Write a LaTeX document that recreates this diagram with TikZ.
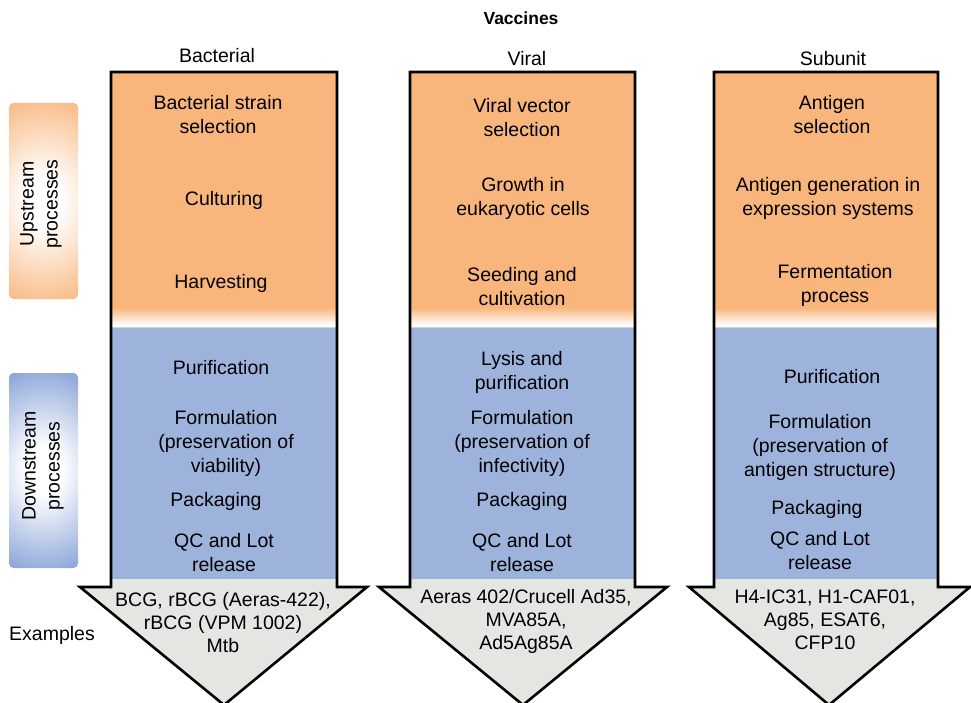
\documentclass[tikz,border=0pt]{standalone}
\usepackage{fontspec}
\setmainfont{Liberation Sans}
\definecolor{upfill}{RGB}{249,182,124}
\definecolor{downfill}{RGB}{158,179,220}
\definecolor{tipfill}{RGB}{227,230,225}
\definecolor{sideup}{RGB}{248,178,118}
\definecolor{sidedown}{RGB}{124,153,212}
\definecolor{seam}{RGB}{205,210,220}
\pgfdeclareradialshading{upfade}{\pgfpoint{0bp}{0bp}}{color(0bp)=(white); color(5bp)=(white); color(25bp)=(sideup); color(50bp)=(sideup)}
\pgfdeclareradialshading{downfade}{\pgfpoint{0bp}{0bp}}{color(0bp)=(white); color(5bp)=(white); color(25bp)=(sidedown); color(50bp)=(sidedown)}
\begin{document}
\begin{tikzpicture}[x=1pt,y=-1pt,
  lbl/.style={align=center, inner sep=0pt, font=\fontsize{19.5}{24}\selectfont},
  exlbl/.style={align=center, inner sep=0pt, font=\fontsize{19.5}{23}\selectfont},
  head/.style={inner sep=0pt, font=\fontsize{19.5}{24}\selectfont},
  outline/.style={draw=black, line width=2.6pt, line join=miter}]
\useasboundingbox (0,0) rectangle (971,703);

% three process arrows: shaft left/right, wing left/right, tip x
\foreach \L/\R/\WL/\WR/\T in {111/337/80/367/224, 410/635/379/667/523, 714/938/689/970/829}{
  \begin{scope}
    \clip (\L,72) -- (\R,72) -- (\R,587) -- (\WR,587) -- (\T,705) -- (\WL,587) -- (\L,587) -- cycle;
    \fill[upfill] (\WL,60) rectangle (\WR,308);
    \shade[top color=upfill, bottom color=white] (\WL,307.5) rectangle (\WR,325);
    \fill[white] (\WL,325) rectangle (\WR,328);
    \draw[seam, line width=0.8pt] (\WL,327.6) -- (\WR,327.6);
    \fill[downfill] (\WL,328) rectangle (\WR,579);
    \fill[tipfill] (\WL,579) rectangle (\WR,710);
  \end{scope}
  \draw[outline] (\L,72) -- (\R,72) -- (\R,587) -- (\WR,587) -- (\T,705) -- (\WL,587) -- (\L,587) -- cycle;
}

% side panels with radial fade
\begin{scope}
  \clip[rounded corners=5pt] (9,103) rectangle (78,299);
  \fill[sideup] (9,103) rectangle (78,299);
  \shade[shading=upfade] (43.5,201) ellipse (92 and 117);
\end{scope}
\begin{scope}
  \clip[rounded corners=5pt] (9,373) rectangle (78,568);
  \fill[sidedown] (9,373) rectangle (78,568);
  \shade[shading=downfade] (43.5,470.5) ellipse (92 and 117);
\end{scope}
\node[lbl, rotate=90] (upstream) at (41,204) {Upstream\\processes};
\node[lbl, rotate=90] (downstream) at (43,466) {Downstream\\processes};

% titles
\node[inner sep=0pt, font=\fontsize{17.5}{20}\selectfont\bfseries] (title) at (521,18) {Vaccines};
\node[head] (hbac) at (217,56) {Bacterial};
\node[head] (hvir) at (527,59) {Viral};
\node[head] (hsub) at (833,59) {Subunit};
\node[head] (examples) at (52,635) {Examples};

% bacterial column
\node[lbl] (b1) at (218,115) {Bacterial strain\\selection};
\node[lbl] (b2) at (224,200) {Culturing};
\node[lbl] (b3) at (221,283) {Harvesting};
\node[lbl] (b4) at (221,368) {Purification};
\node[lbl] (b5) at (226,443) {Formulation\\(preservation of\\viability)};
\node[lbl] (b6) at (216,501) {Packaging};
\node[lbl] (b7) at (224,553) {QC and Lot\\release};
\node[exlbl] (b8) at (223,623) {BCG, rBCG (Aeras-422),\\rBCG (VPM 1002)\\Mtb};

% viral column
\node[lbl] (v1) at (522,118) {Viral vector\\selection};
\node[lbl] (v2) at (523,198) {Growth in\\eukaryotic cells};
\node[lbl] (v3) at (522,287) {Seeding and\\cultivation};
\node[lbl] (v4) at (522,372) {Lysis and\\purification};
\node[lbl] (v5) at (522,443) {Formulation\\(preservation of\\infectivity)};
\node[lbl] (v6) at (522,501) {Packaging};
\node[lbl] (v7) at (522,553) {QC and Lot\\release};
\node[exlbl] (v8) at (526,621) {Aeras 402/Crucell Ad35,\\MVA85A,\\Ad5Ag85A};

% subunit column
\node[lbl] (s1) at (832,115) {Antigen\\selection};
\node[lbl] (s2) at (828,198) {Antigen generation in\\expression systems};
\node[lbl] (s3) at (835,285) {Fermentation\\process};
\node[lbl] (s4) at (832,377) {Purification};
\node[lbl] (s5) at (820,447) {Formulation\\(preservation of\\antigen structure)};
\node[lbl] (s6) at (817,509) {Packaging};
\node[lbl] (s7) at (820,551) {QC and Lot\\release};
\node[exlbl] (s8) at (825,620) {H4-IC31, H1-CAF01,\\Ag85, ESAT6,\\CFP10};
\end{tikzpicture}
\end{document}
